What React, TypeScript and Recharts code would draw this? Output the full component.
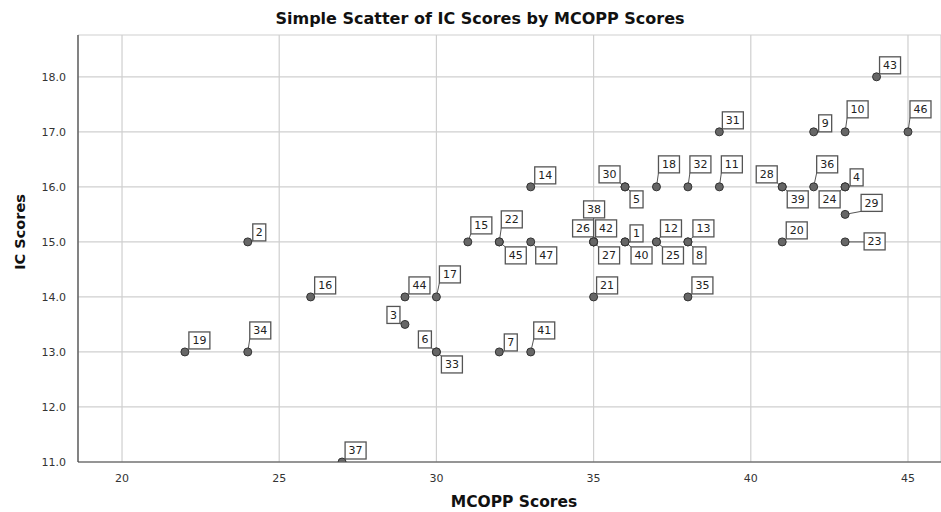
import { ScatterChart, Scatter, XAxis, YAxis, CartesianGrid } from "recharts";

// case numbers and their scores
const caseIds = [
  1, 2, 3, 4, 5, 6, 7, 8, 9, 10, 11, 12, 13, 14, 15, 16, 17, 18, 19, 20, 21, 22, 23, 24,
  25, 26, 27, 28, 29, 30, 31, 32, 33, 34, 35, 36, 37, 38, 39, 40, 41, 42, 43, 44, 45, 46, 47,
];
const mcoppScores = [
  36, 24, 29, 43, 36, 30, 32, 38, 42, 43, 39, 37, 38, 33, 31, 26, 30, 37, 22, 41, 35, 32, 43, 43,
  37, 35, 35, 41, 43, 36, 39, 38, 30, 24, 38, 42, 27, 35, 41, 36, 33, 35, 44, 29, 32, 45, 33,
];
const icScores = [
  15, 15, 13.5, 16, 16, 13, 13, 15, 17, 17, 16, 15, 15, 16, 15, 14, 14, 16, 13, 15, 14, 15, 15, 16,
  15, 15, 15, 16, 15.5, 16, 17, 16, 13, 13, 14, 16, 11, 15, 16, 15, 13, 15, 18, 14, 15, 17, 15,
];
const xTicks = [20, 25, 30, 35, 40, 45];
const yTicks = [11, 12, 13, 14, 15, 16, 17, 18];

// where each case label box sits, relative to its point (layout only)
const labelOffsets: Record<number, [number, number]> = {
  1: [5, -17], 2: [5, -18], 3: [-18, -18], 4: [5, -18], 5: [5, 4], 6: [-18, -21],
  7: [5, -18], 8: [5, 5], 9: [5, -17], 10: [2, -31], 11: [2, -31], 12: [4, -22],
  13: [5, -22], 14: [4, -20], 15: [3, -25], 16: [4, -20], 17: [3, -31], 18: [2, -31],
  19: [4, -20], 20: [4, -20], 21: [3, -20], 22: [2, -31], 23: [19, -9], 24: [-26, 4],
  25: [6, 5], 26: [-21, -22], 27: [5, 5], 28: [-26, -21], 29: [16, -20], 30: [-26, -21],
  31: [3, -20], 32: [2, -31], 33: [5, 4], 34: [2, -30], 35: [4, -20], 36: [3, -31],
  37: [3, -20], 38: [-10, -41], 39: [5, 4], 40: [6, 5], 41: [3, -30], 42: [2, -22],
  43: [3, -20], 44: [4, -20], 45: [6, 5], 46: [2, -31], 47: [5, 5],
};

const data = caseIds.map((id, i) => ({ id, mcopp: mcoppScores[i], ic: icScores[i] }));

const FONT = "'DejaVu Sans', sans-serif";
const TITLE_FONT = "'DejaVu Sans', sans-serif";

function boxFor(id: number, cx: number, cy: number) {
  const [dx, dy] = labelOffsets[id] ?? [4, -20];
  const w = String(id).length > 1 ? 21 : 13;
  const h = 17;
  return { x: cx + dx, y: cy + dy, w, h };
}

const clamp = (v: number, lo: number, hi: number) => Math.max(lo, Math.min(hi, v));

function LeaderLine(props: any) {
  const { cx, cy, payload } = props;
  const b = boxFor(payload.id, cx, cy);
  const nx = clamp(cx, b.x, b.x + b.w);
  const ny = clamp(cy, b.y, b.y + b.h);
  return <line x1={cx} y1={cy} x2={nx} y2={ny} stroke="#555" strokeWidth={1} />;
}

function Dot(props: any) {
  const { cx, cy } = props;
  return <circle cx={cx} cy={cy} r={4} fill="#666" stroke="#333" strokeWidth={1} />;
}

function CaseLabel(props: any) {
  const { cx, cy, payload } = props;
  const b = boxFor(payload.id, cx, cy);
  return (
    <g>
      <rect x={b.x} y={b.y} width={b.w} height={b.h} fill="#fff" stroke="#555" strokeWidth={1.3} />
      <text
        x={b.x + b.w / 2}
        y={b.y + b.h / 2}
        dy="0.36em"
        textAnchor="middle"
        fontFamily={FONT}
        fontSize={11}
        fill="#222"
      >
        {payload.id}
      </text>
    </g>
  );
}

export default function App() {
  return (
    <div style={{ position: "relative", width: 941, height: 512, background: "#fff" }}>
      <style>{`body{margin:0}`}</style>
      <ScatterChart width={941} height={512} margin={{ top: 35, right: 0, bottom: 0, left: 0 }}>
        <CartesianGrid stroke="#cfcfcf" strokeWidth={1.2} ticks={xTicks} />
        <XAxis
          type="number"
          dataKey="mcopp"
          domain={[18.6, 46.05]}
          ticks={xTicks}
          allowDataOverflow
          height={50}
          axisLine={{ stroke: "#444", strokeWidth: 1.2 }}
          tickLine={false}
          tick={{ fontSize: 11, fontFamily: FONT, fill: "#333" }}
          tickMargin={6}
        />
        <YAxis
          type="number"
          dataKey="ic"
          domain={[11, 18.76]}
          ticks={yTicks}
          allowDataOverflow
          width={78}
          axisLine={{ stroke: "#444", strokeWidth: 1.2 }}
          tickLine={false}
          tick={{ fontSize: 11, fontFamily: FONT, fill: "#333" }}
          tickFormatter={(v: number) => v.toFixed(1)}
          tickMargin={6}
        />
        <Scatter data={data} shape={LeaderLine} isAnimationActive={false} />
        <Scatter data={data} shape={Dot} isAnimationActive={false} />
        <Scatter data={data} shape={CaseLabel} isAnimationActive={false} />
      </ScatterChart>
      <svg
        width={941}
        height={512}
        style={{ position: "absolute", left: 0, top: 0, pointerEvents: "none" }}
      >
        <text x={480} y={24} textAnchor="middle" fontFamily={TITLE_FONT} fontWeight="bold" fontSize={16} fill="#111">
          Simple Scatter of IC Scores by MCOPP Scores
        </text>
        <text x={514} y={507} textAnchor="middle" fontFamily={TITLE_FONT} fontWeight="bold" fontSize={15.5} fill="#111">
          MCOPP Scores
        </text>
        <text
          x={25}
          y={232}
          textAnchor="middle"
          transform="rotate(-90 25 232)"
          fontFamily={TITLE_FONT}
          fontWeight="bold"
          fontSize={14.5}
          fill="#111"
        >
          IC Scores
        </text>
      </svg>
    </div>
  );
}
